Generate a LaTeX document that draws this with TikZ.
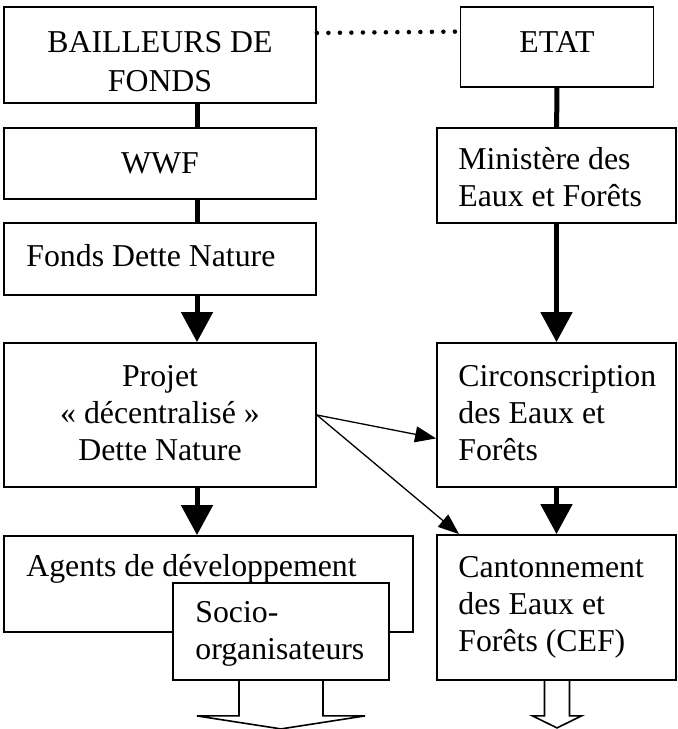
\documentclass[tikz,border=0pt]{standalone}
\usepackage{fontspec}
\setmainfont{Liberation Serif}
\usetikzlibrary{arrows.meta}

\tikzset{every picture/.style={line width=0.75pt}}
\tikzset{
  box/.style={draw, line width=1.8pt, inner sep=0pt},
  txt/.style={inner sep=0pt, font=\fontsize{31.8}{37}\selectfont},
}

\begin{document}
\begin{tikzpicture}[x=1pt,y=1pt,yscale=-1,xscale=1,
  thicklink/.style={line width=5pt},
  thickarrow/.style={line width=5pt,-{Triangle[width=31pt,length=30pt]}},
  thinarrow/.style={line width=1.3pt,-{Triangle[width=16pt,length=21pt]}},
  dotline/.style={line width=4.5pt,line cap=round,dash pattern=on 0pt off 11.5pt},
  hollow/.style={line width=1.6pt,line join=miter}]

\useasboundingbox (0,0) rectangle (678,729);

\node[box, minimum width=312pt, minimum height=96pt] (bailleurs) at (160,55) {};
\node[box, minimum width=312pt, minimum height=71pt] (wwf) at (160,163.5) {};
\node[box, minimum width=312pt, minimum height=72pt] (fonds) at (160,259) {};
\node[box, minimum width=312pt, minimum height=144pt] (projet) at (160,415) {};
\node[box, minimum width=409pt, minimum height=96pt] (agents) at (208.5,584) {};
\node[box, fill=white, minimum width=216pt, minimum height=97pt] (socio) at (281,631.5) {};

\node[box, minimum width=193pt, minimum height=80pt] (etat) at (557,47) {};
\node[box, minimum width=239pt, minimum height=95pt] (ministere) at (556.5,175.5) {};
\node[box, minimum width=239pt, minimum height=144pt] (circ) at (556.5,415) {};
\node[box, minimum width=239pt, minimum height=145pt] (canton) at (556.5,607.5) {};

\node[txt, align=center] (bailleurstxt) at (160,62) {BAILLEURS DE\\[2pt]FONDS};
\node[txt] (wwftxt) at (160,163.5) {WWF};
\node[txt, anchor=west] (fondstxt) at (26,256) {Fonds Dette Nature};
\node[txt, align=center] (projettxt) at (160,413) {Projet\\«~décentralisé~»\\Dette Nature};
\node[txt, anchor=base west] (agentstxt) at (26,576) {Agents de développement};
\node[txt, anchor=west, align=left] (sociotxt) at (195,634) {Socio-\\organisateurs};
\node[txt] (etattxt) at (557,42) {ETAT};
\node[txt, anchor=west, align=left] (ministeretxt) at (458,177.5) {Ministère des\\Eaux et Forêts};
\node[txt, anchor=west, align=left] (circtxt) at (458,413) {Circonscription\\des Eaux et\\Forêts};
\node[txt, anchor=west, align=left] (cantontxt) at (458,607.5) {Cantonnement\\des Eaux et\\Forêts (CEF)};

\coordinate (leftline) at (197,0);

\draw [dotline] (bailleurs.8.4) -- (etat.171.2);

\draw [thicklink] (bailleurs.south -| leftline) -- (wwf.north -| leftline);
\draw [thicklink] (wwf.south -| leftline) -- (fonds.north -| leftline);
\draw [thickarrow] (fonds.south -| leftline) -- (projet.north -| leftline);
\draw [thickarrow] (projet.south -| leftline) -- (agents.north -| leftline);
\draw [thicklink] (etat) -- (ministere);
\draw [thickarrow] (ministere) -- (circ);
\draw [thickarrow] (circ) -- (canton);

\draw [thinarrow] (projet.east) -- (circ.191.4);
\draw [thinarrow] (projet.east) -- (canton.143.1);

\draw [hollow] ([xshift=-42pt]socio.south) -- ++(0,35) -- ++(-42,0) -- ++(84,13) -- ++(84,-13) -- ++(-42,0) -- ++(0,-35);
\draw [hollow] ([xshift=-12pt]canton.south) -- ++(0,35) -- ++(-12,0) -- ++(24.5,12) -- ++(24.5,-12) -- ++(-12,0) -- ++(0,-35);

\end{tikzpicture}
\end{document}
